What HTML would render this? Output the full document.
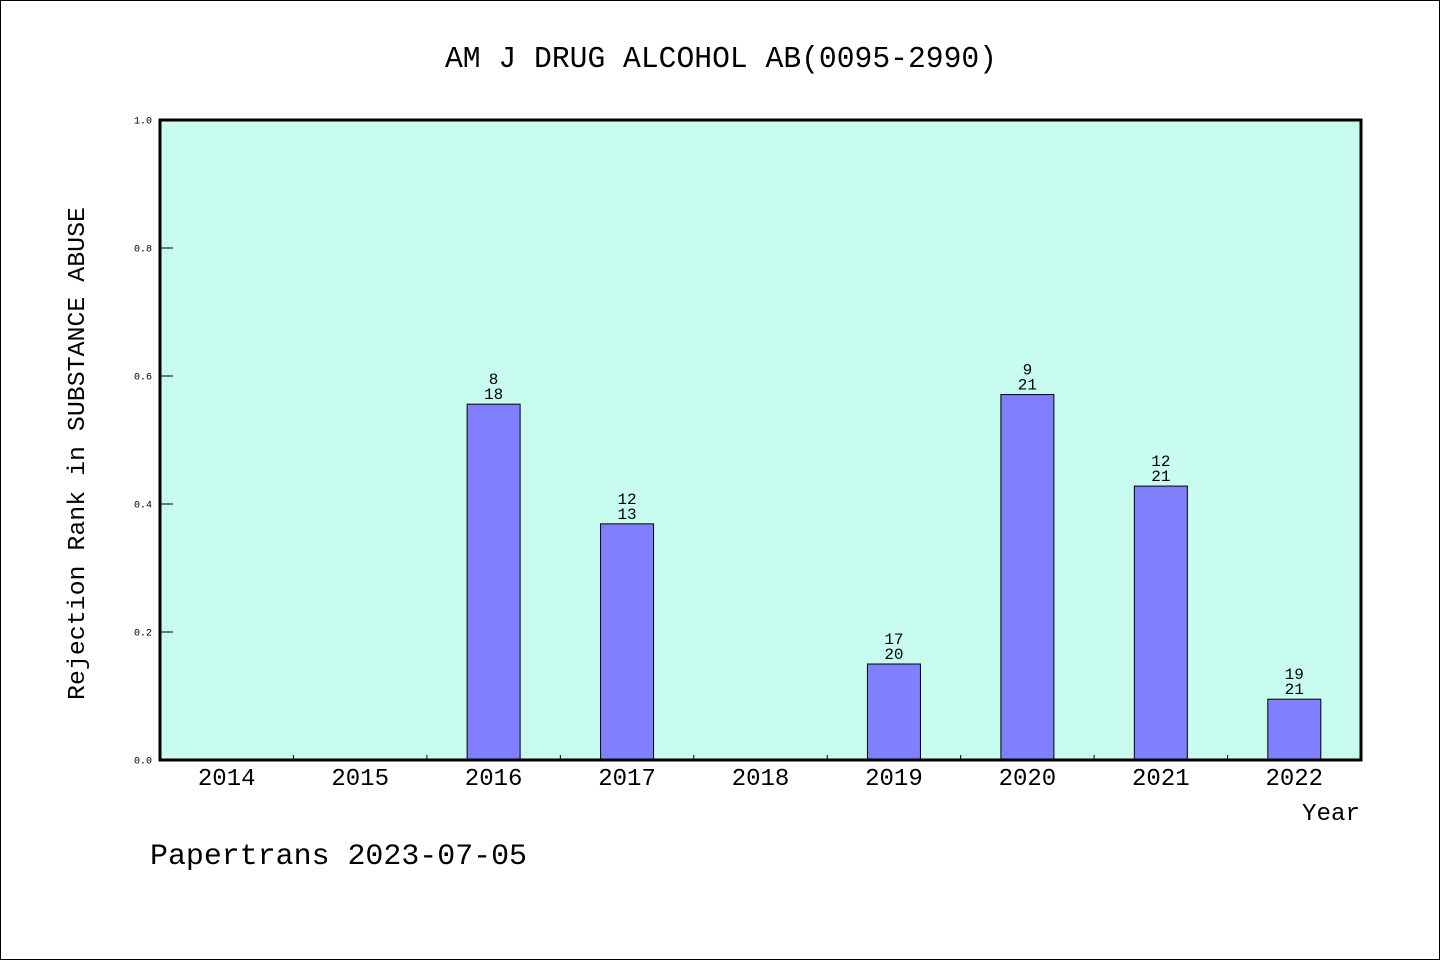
<!DOCTYPE html>
<html><head><meta charset="utf-8"><style>
html,body{margin:0;padding:0;background:#fff;}
svg text{font-family:"WenQuanYi Zen Hei","Liberation Mono",monospace;}
</style></head><body>
<svg id="chart" width="1440" height="960" xmlns="http://www.w3.org/2000/svg">
<rect x="0.5" y="0.5" width="1439" height="959" fill="#fff" stroke="#000" stroke-width="1"/>
<text x="445" y="67" font-size="31" textLength="552" lengthAdjust="spacingAndGlyphs">AM J DRUG ALCOHOL AB(0095-2990)</text>
<rect x="160" y="120" width="1201" height="640" fill="#c8fcee"/>
<g id="bars"></g>
<g id="axes"></g>
<rect x="160" y="120" width="1201" height="640" fill="none" stroke="#000" stroke-width="3"/>
<text transform="translate(84,700) rotate(-90)" font-size="24" textLength="493" lengthAdjust="spacingAndGlyphs">Rejection Rank in SUBSTANCE ABUSE</text>
<text x="1302" y="820" font-size="24" textLength="58" lengthAdjust="spacingAndGlyphs">Year</text>
<text x="150" y="864" font-size="30" textLength="377" lengthAdjust="spacingAndGlyphs">Papertrans 2023-07-05</text>
</svg>
<script>
const categories = ["2014","2015","2016","2017","2018","2019","2020","2021","2022"];
const values = [null,null,0.556,0.369,null,0.15,0.571,0.428,0.095];
const ranks = [null,null,"8","12",null,"17","9","12","19"];
const totals = [null,null,"18","13",null,"20","21","21","21"];
const yTicks = [0,0.2,0.4,0.6,0.8,1.0];
const yTickLabels = ["0.0","0.2","0.4","0.6","0.8","1.0"];

const NS="http://www.w3.org/2000/svg";
const X0=160,X1=1361,Y0=760,Y1=120;
const bw=(X1-X0)/categories.length;
const xc=i=>X0+bw*(i+0.5);
const y=v=>Y0-(Y0-Y1)*v;
function mk(tag,attrs,parent){const e=document.createElementNS(NS,tag);for(const k in attrs)e.setAttribute(k,attrs[k]);parent.appendChild(e);return e;}
const bars=document.getElementById('bars'),axes=document.getElementById('axes');
values.forEach((v,i)=>{
  if(v!==null){
    const r=mk('rect',{x:xc(i)-26.5,y:y(v),width:53,height:Y0-y(v),fill:'#8080ff',stroke:'#000','stroke-width':1},bars);
    
    
    const t1=mk('text',{x:xc(i),y:y(v)-20,'font-size':16,'text-anchor':'middle'},bars);
    t1.textContent=ranks[i];
    
    
    const t2=mk('text',{x:xc(i),y:y(v)-5,'font-size':16,'text-anchor':'middle'},bars);
    t2.textContent=totals[i];
    
    
  }
  const lab=mk('text',{x:xc(i),y:785,'font-size':24,'text-anchor':'middle'},axes);
  lab.textContent=categories[i];
  
  
  if(i>0){
    const tk=mk('line',{x1:X0+bw*i,x2:X0+bw*i,y1:Y0-5,y2:Y0,stroke:'#000','stroke-width':1},axes);
    
    
  }
});
yTicks.forEach((v,i)=>{
  const tk=mk('line',{x1:X0,x2:X0+13,y1:y(v),y2:y(v),stroke:'#000','stroke-width':1},axes);
  
  
  const t=mk('text',{x:X0-8,y:y(v)+3.5,'font-size':10,'text-anchor':'end','font-family':'Liberation Sans, sans-serif'},axes);
  t.textContent=yTickLabels[i];
  
  
});
</script>
</body></html>
